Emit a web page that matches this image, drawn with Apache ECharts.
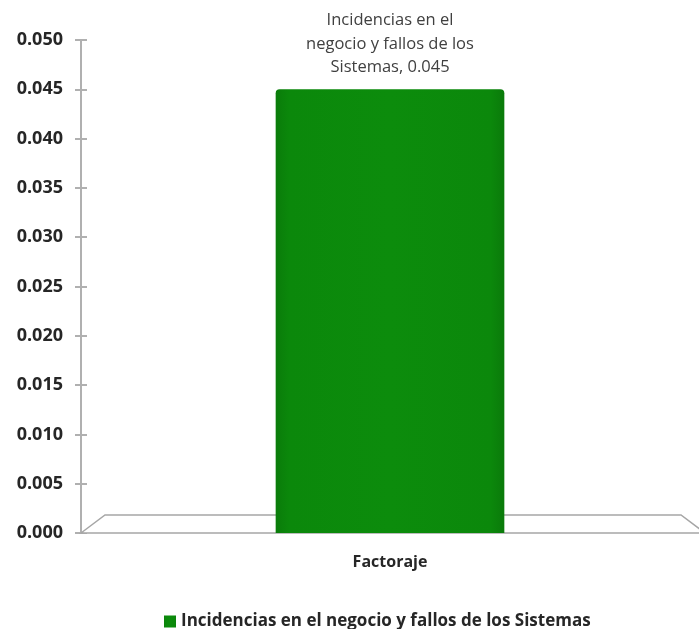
<!DOCTYPE html>
<html><head><meta charset="utf-8">
<script src="https://cdn.jsdelivr.net/npm/echarts@6/dist/echarts.min.js"></script>
<style>html,body{margin:0;padding:0;background:#fff}#c{width:699px;height:629px}</style>
</head><body><div id="c"></div>
<script>
var categories = ['Factoraje'];
var seriesName = 'Incidencias en el negocio y fallos de los Sistemas';
var values = [0.045];
var yMin = 0, yMax = 0.05, yStep = 0.005;

var chart = echarts.init(document.getElementById('c'));
var font = "'Open Sans', 'Noto Sans', sans-serif";
var option = {
  animation: false,
  backgroundColor: '#fff',
  grid: { left: 81, right: -6, top: 40, bottom: 96 },
  legend: {
    top: 608, left: 159,
    itemWidth: 12, itemHeight: 12, itemGap: 4,
    icon: 'rect',
    textStyle: { fontFamily: font, fontWeight: 'bold', fontSize: 17, color: '#262626' },
    data: [seriesName]
  },
  xAxis: {
    type: 'category', data: categories,
    axisLine: { show: false }, axisTick: { show: false },
    axisLabel: { margin: 21, fontFamily: font, fontWeight: 'bold', fontSize: 16, color: '#262626' }
  },
  yAxis: [{
    type: 'value', min: yMin, max: yMax, interval: yStep,
    splitLine: { show: false },
    axisLine: { show: true, lineStyle: { color: '#b0b0b0', width: 2 } },
    axisTick: { show: true, length: 6, lineStyle: { color: '#b0b0b0', width: 2 } },
    axisLabel: { margin: 18, fontFamily: font, fontWeight: 'bold', fontSize: 18, color: '#262626',
      formatter: function (v) { return v.toFixed(3); } }
  }, {
    type: 'value', min: yMin, max: yMax, interval: yStep, position: 'left',
    splitLine: { show: false }, axisLine: { show: false }, axisLabel: { show: false },
    axisTick: { show: true, inside: true, length: 6, lineStyle: { color: '#b0b0b0', width: 2 } }
  }],
  series: [{
    name: seriesName, type: 'bar', data: values, barWidth: '37%', z: 5,
    itemStyle: {
      borderRadius: [4, 4, 0, 0],
      color: new echarts.graphic.LinearGradient(0, 0, 1, 0, [
        { offset: 0, color: '#0a7c0a' },
        { offset: 0.06, color: '#0b880b' },
        { offset: 0.5, color: '#0c8c0c' },
        { offset: 0.94, color: '#0b880b' },
        { offset: 1, color: '#0a7a0a' }
      ])
    },
    label: {
      show: true, position: 'top', distance: 10,
      fontFamily: font, fontSize: 16.5, color: '#404040', lineHeight: 23.5, align: 'center',
      formatter: function (p) {
        var w = p.seriesName.split(' ');
        return w.slice(0, 3).join(' ') + '\n' + w.slice(3, 8).join(' ') + '\n' +
          w.slice(8).join(' ') + ', ' + p.value.toFixed(3);
      }
    }
  }]
};
chart.setOption(option);

// Decorative 3D floor, positioned from the axis scale
var zero = chart.convertToPixel({ yAxisIndex: 0 }, 0);
var left = 81, right = 699 + 6;
var depth = 18, slant = 24;
chart.setOption({
  graphic: [{
    type: 'polygon', z: 1,
    shape: { points: [[left, zero], [left + slant, zero - depth], [right - slant, zero - depth], [right, zero]] },
    style: { fill: '#ffffff', stroke: '#a6a6a6', lineWidth: 1.5 }
  }]
});
</script></body></html>
